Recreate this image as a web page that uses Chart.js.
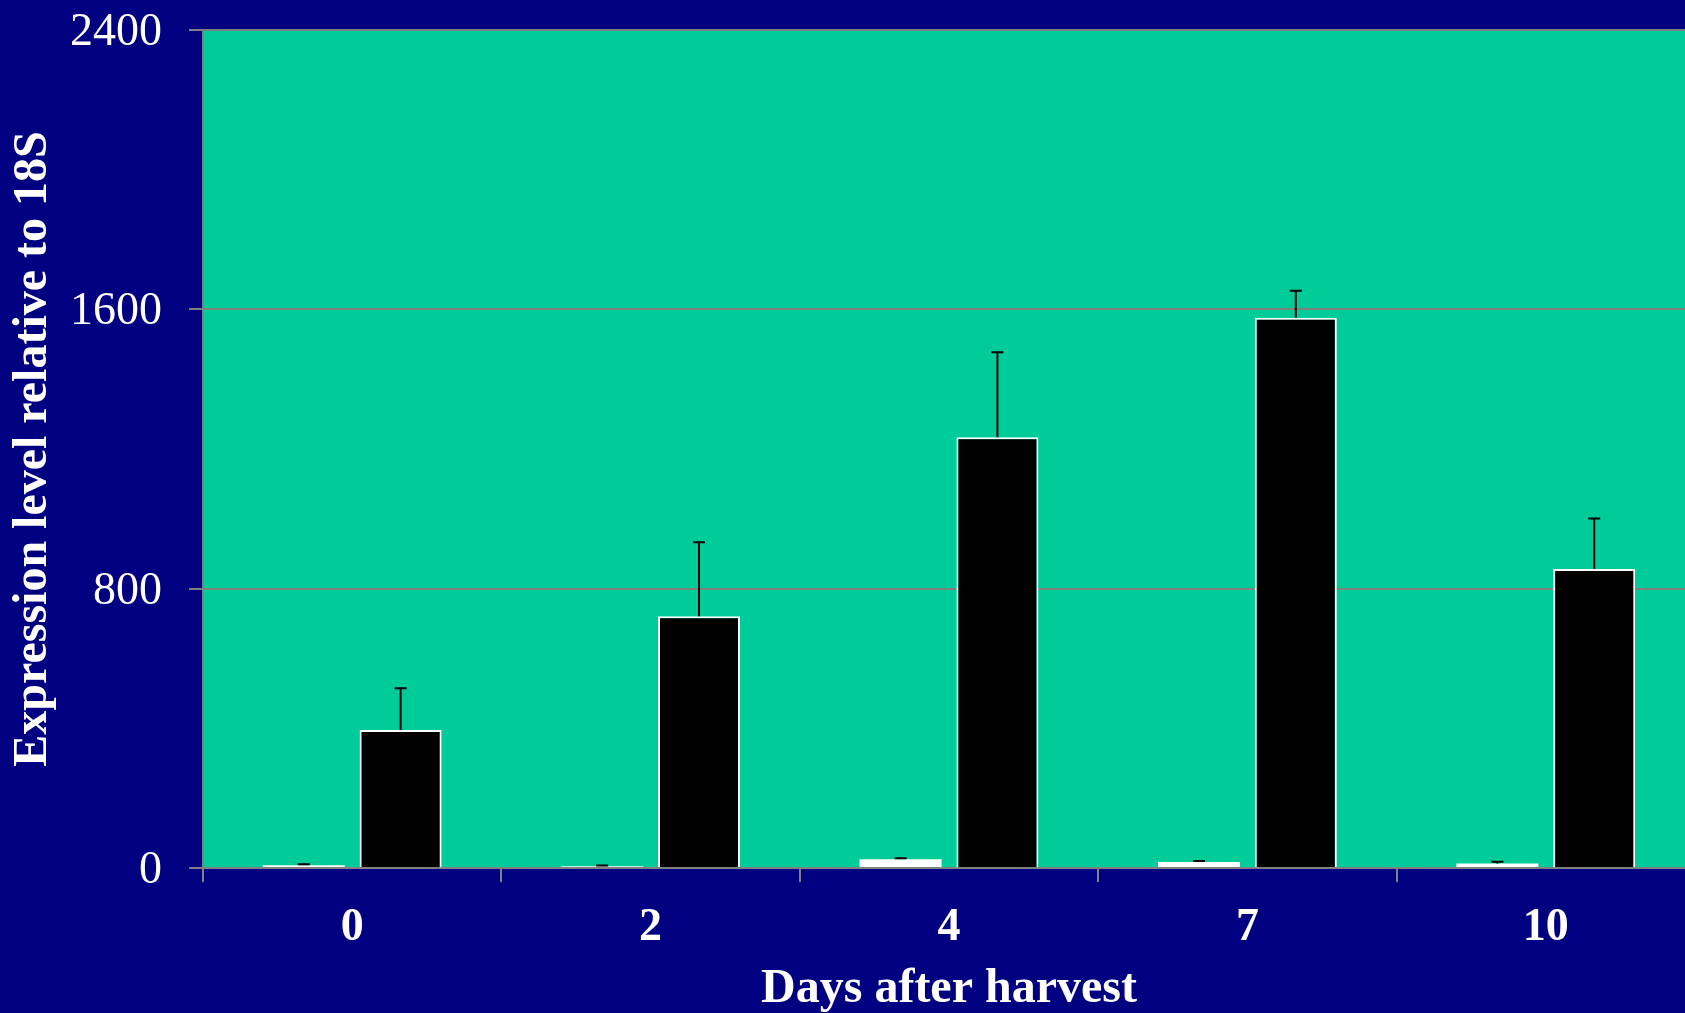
<!DOCTYPE html>
<html>
<head>
<meta charset="utf-8">
<script src="https://cdn.jsdelivr.net/npm/chart.js@4/dist/chart.umd.min.js"></script>
<style>
  html, body { margin: 0; padding: 0; background: #000080; overflow: hidden; }
  #wrap { position: absolute; left: 0; top: 0; }
  canvas { display: block; }
</style>
</head>
<body>
<div id="wrap"><canvas id="c" width="1695" height="1030"></canvas></div>
<script>
const categories = ['0', '2', '4', '7', '10'];
const whiteValues = [8, 5, 25, 17, 13];
const whiteErrors = [3, 2, 3, 3, 5];
const blackValues = [395, 721, 1234, 1576, 856];
const blackErrors = [120, 212, 243, 77, 145];
const yTicks = [0, 800, 1600, 2400];
const xTitle = 'Days after harvest';
const yTitle = 'Expression level relative to 18S';

const errorSets = [whiteErrors, blackErrors];

const bgPlugin = {
  id: 'bg',
  beforeDraw(chart) {
    const {ctx, chartArea: a, width, height} = chart;
    ctx.save();
    ctx.fillStyle = '#000080';
    ctx.fillRect(0, 0, width, height);
    ctx.fillStyle = '#00CC99';
    ctx.fillRect(a.left, a.top, a.right - a.left, a.bottom - a.top);
    ctx.restore();
  }
};

const errPlugin = {
  id: 'err',
  afterDatasetsDraw(chart) {
    const {ctx} = chart;
    const ys = chart.scales.y;
    chart.data.datasets.forEach((ds, di) => {
      const meta = chart.getDatasetMeta(di);
      const errs = errorSets[di];
      meta.data.forEach((el, i) => {
        const v = ds.data[i];
        const e = errs[i];
        const yb = ys.getPixelForValue(v);
        const yt = ys.getPixelForValue(v + e);
        ctx.save();
        ctx.strokeStyle = '#000000';
        ctx.lineWidth = 2;
        ctx.beginPath();
        ctx.moveTo(el.x, yb);
        ctx.lineTo(el.x, yt);
        ctx.moveTo(el.x - 6, yt);
        ctx.lineTo(el.x + 6, yt);
        ctx.stroke();
        ctx.restore();
      });
    });
  }
};

new Chart(document.getElementById('c'), {
  type: 'bar',
  data: {
    labels: categories,
    datasets: [
      {
        label: 'A',
        data: whiteValues,
        backgroundColor: '#FFFFFF',
        borderColor: '#FFFFFF',
        borderWidth: 0,
        barPercentage: 0.847,
        categoryPercentage: 0.649
      },
      {
        label: 'B',
        data: blackValues,
        backgroundColor: '#000000',
        borderColor: '#FFFFFF',
        borderWidth: 2,
        barPercentage: 0.847,
        categoryPercentage: 0.649
      }
    ]
  },
  options: {
    responsive: false,
    animation: false,
    devicePixelRatio: 1,
    layout: { padding: { top: 30, left: 0, right: 0, bottom: 0 } },
    plugins: { legend: { display: false }, tooltip: { enabled: false } },
    scales: {
      x: {
        offset: true,
        grid: {
          offset: true,
          drawOnChartArea: false,
          drawTicks: true,
          tickLength: 14,
          color: '#808080',
          lineWidth: 2
        },
        border: { color: '#808080', width: 2 },
        ticks: {
          color: '#FFFFFF',
          padding: 19,
          font: { family: 'Liberation Serif', size: 46, weight: 'bold' }
        },
        title: {
          display: true,
          text: xTitle,
          color: '#FFFFFF',
          padding: { top: 0, bottom: 12 },
          font: { family: 'Liberation Serif', size: 48, weight: 'bold' }
        },
        afterFit(scale) { scale.height = 1030 - 868; scale.paddingLeft = 0; scale.paddingRight = 0; }
      },
      y: {
        min: 0,
        max: 2400,
        afterBuildTicks(scale) { scale.ticks = yTicks.map(v => ({ value: v })); },
        grid: {
          color: '#808080',
          lineWidth: 2,
          tickLength: 14
        },
        border: { color: '#808080', width: 2 },
        ticks: {
          color: '#FFFFFF',
          padding: 27,
          labelOffset: 3,
          font: { family: 'Liberation Serif', size: 46 },
          callback: (v) => String(v)
        },
        title: {
          display: true,
          text: yTitle,
          color: '#FFFFFF',
          padding: { top: 5, bottom: 0 },
          font: { family: 'Liberation Serif', size: 48, weight: 'bold' }
        },
        afterFit(scale) { scale.width = 203; scale.paddingTop = 0; scale.paddingBottom = 0; }
      }
    }
  },
  plugins: [bgPlugin, errPlugin]
});
</script>
</body>
</html>
